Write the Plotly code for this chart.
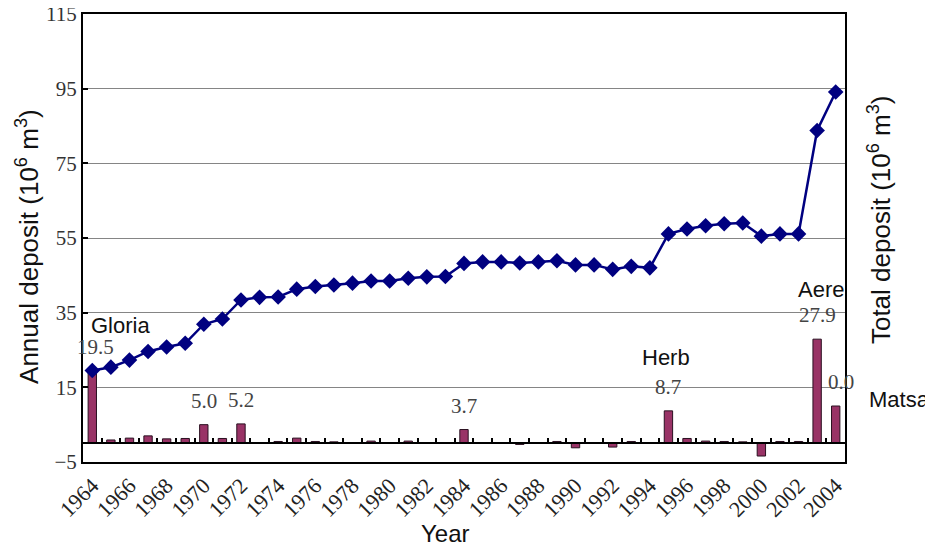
import plotly.graph_objects as go

# ---- data ----
years = list(range(1964, 2005))
annual_deposit = [19.5, 0.9, 1.4, 2.0, 1.2, 1.3, 5.0, 1.3, 5.2, 0.0,
                  0.5, 1.4, 0.5, 0.4, 0.0, 0.6, 0.0, 0.6, 0.0, 0.0,
                  3.7, 0.0, 0.0, -0.3, 0.0, 0.5, -1.2, 0.0, -1.0, 0.5,
                  0.2, 8.7, 1.3, 0.6, 0.5, 0.4, -3.4, 0.5, 0.5, 27.9,
                  10.0]
total_deposit = [19.5, 20.4, 22.3, 24.6, 25.8, 26.8, 31.9, 33.3, 38.4, 39.1,
                 39.2, 41.3, 42.0, 42.4, 42.9, 43.5, 43.5, 44.2, 44.6, 44.7,
                 48.2, 48.6, 48.6, 48.3, 48.6, 48.9, 47.8, 47.8, 46.6, 47.4,
                 47.0, 56.1, 57.4, 58.3, 58.8, 59.0, 55.5, 56.1, 56.1, 83.8,
                 94.1]
tick_years = list(range(1964, 2005, 2))
tick_labels = [str(y) for y in tick_years]
y_ticks = [-5, 15, 35, 55, 75, 95, 115]

value_label_years = [1964, 1970, 1972, 1984, 1995, 2003, 2004]
value_label_texts = ["19.5", "5.0", "5.2", "3.7", "8.7", "27.9", "0.0"]
typhoon_names = ["Gloria", "Herb", "Aere", "Matsa"]
typhoon_years = [1964, 1995, 2003, 2004]

SERIF = "Liberation Serif"
SANS = "Liberation Sans"

fig = go.Figure()
fig.add_trace(go.Bar(x=years, y=annual_deposit, width=0.45,
                     marker=dict(color="#993366", line=dict(color="#2a1020", width=1)),
                     showlegend=False, hoverinfo="skip"))
fig.add_trace(go.Scatter(x=years, y=total_deposit, mode="lines+markers",
                         line=dict(color="#000080", width=2.5),
                         marker=dict(symbol="diamond", size=12, color="#000080"),
                         showlegend=False))
# dummy trace carrying the zero-line axis
fig.add_trace(go.Scatter(x=[years[0]], y=[0], xaxis="x2", yaxis="y", mode="markers",
                         marker=dict(opacity=0), showlegend=False, hoverinfo="skip"))

annotations = []
# value labels
for yr, txt in zip(value_label_years, value_label_texts):
    v = annual_deposit[years.index(yr)]
    xs = 0
    if yr == 1964:
        xs = 3
    if yr == 2004:
        xs = 5
    annotations.append(dict(x=yr, y=v, xref="x", yref="y", text=txt, showarrow=False,
                            yshift=24, xshift=xs, yanchor="middle",
                            font=dict(family=SERIF, size=21, color="#444444")))
# typhoon names
name_offsets = {"Gloria": (-3, 45, "left"), "Herb": (-2, 53, "center"),
                "Aere": (4, 50, "center"), "Matsa": (31, 7, "left")}
for nm, yr in zip(typhoon_names, typhoon_years):
    v = annual_deposit[years.index(yr)]
    dx, dy, xa = name_offsets[nm]
    annotations.append(dict(x=yr, y=v, xref="x", yref="y", text=nm, showarrow=False,
                            xshift=dx, yshift=dy, xanchor=xa, yanchor="middle",
                            font=dict(family=SANS, size=22, color="#111111")))
# axis titles
annotations.append(dict(x=0, y=0.48, xref="paper", yref="paper", xshift=-55,
                        text="Annual deposit (10<sup>6</sup> m<sup>3</sup>)", textangle=-90,
                        showarrow=False, xanchor="center", yanchor="middle",
                        font=dict(family=SANS, size=26, color="#111111")))
annotations.append(dict(x=1, y=0.54, xref="paper", yref="paper", xshift=34,
                        text="Total deposit (10<sup>6</sup> m<sup>3</sup>)", textangle=-90,
                        showarrow=False, xanchor="center", yanchor="middle",
                        font=dict(family=SANS, size=26, color="#111111")))
annotations.append(dict(x=0.476, y=0, xref="paper", yref="paper", yshift=-71,
                        text="Year", showarrow=False, xanchor="center", yanchor="middle",
                        font=dict(family=SANS, size=24, color="#111111")))

fig.update_layout(
    width=925, height=539,
    margin=dict(l=75, r=88, t=6, b=85, autoexpand=False),
    paper_bgcolor="white", plot_bgcolor="white",
    bargap=0.5,
    xaxis=dict(range=[1963.5, 2004.5], tickmode="array", tickvals=tick_years,
               ticktext=tick_labels, tickangle=-45, ticks="", automargin=False,
               ticklabeloverflow="allow",
               tickfont=dict(family=SERIF, size=22, color="#222222"),
               showline=True, linecolor="black", linewidth=2, mirror=True,
               showgrid=False, zeroline=False),
    xaxis2=dict(overlaying="x", anchor="free", position=5 / 120, side="bottom",
                range=[1963.5, 2004.5], tickmode="array", automargin=False,
                tickvals=[y + 0.5 for y in years[:-1]], showticklabels=False,
                ticks="inside", ticklen=5, tickwidth=1.5, tickcolor="black",
                showline=True, linecolor="black", linewidth=1.5,
                showgrid=False, zeroline=False),
    yaxis=dict(range=[-5, 115], tickmode="array", tickvals=y_ticks, automargin=False,
               ticklabeloverflow="allow",
               ticks="inside", ticklen=5, tickwidth=2, tickcolor="black",
               tickfont=dict(family=SERIF, size=21, color="#333333"),
               showline=True, linecolor="black", linewidth=2, mirror=True,
               showgrid=True, gridcolor="#858585", gridwidth=1, zeroline=False),
    annotations=annotations,
)

fig.write_html("out.html")
